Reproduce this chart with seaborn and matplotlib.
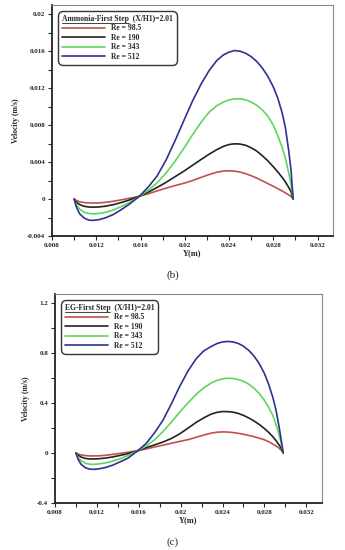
import matplotlib
matplotlib.use('Agg')
import pandas as pd
import matplotlib.pyplot as plt
import seaborn as sns
from matplotlib.ticker import MultipleLocator, FuncFormatter
from matplotlib.lines import Line2D
from matplotlib.font_manager import FontProperties

# positions across the channel (m)
y_pos = [0.0100, 0.0102, 0.0105, 0.0109, 0.0113, 0.0117, 0.0122, 0.0128, 0.0135, 0.0142,
         0.0150, 0.0159, 0.0167, 0.0175, 0.0183, 0.0191, 0.0199, 0.0207, 0.0215, 0.0222,
         0.0229, 0.0235, 0.0240, 0.0245, 0.0250, 0.0255, 0.0260, 0.0265, 0.0270, 0.0275,
         0.0280, 0.0284, 0.0288, 0.0291, 0.0294, 0.0296, 0.0298]

re_labels = ['Re = 98.5', 'Re = 190', 'Re = 343', 'Re = 512']
ratio_note = '(X/H1)=2.01'

# (b) Ammonia - first step, velocity (m/s)
amm_985 = [0, -0.00016, -0.00030, -0.00038, -0.00042, -0.00043, -0.00042, -0.00036, -0.00025, -0.00010,
           0.00008, 0.00030, 0.00057, 0.00088, 0.00117, 0.00145, 0.00170, 0.00200, 0.00235, 0.00265,
           0.00290, 0.00303, 0.00306, 0.00302, 0.00292, 0.00275, 0.00253, 0.00227, 0.00198, 0.00168,
           0.00138, 0.00113, 0.00087, 0.00067, 0.00044, 0.00028, 0]
amm_190 = [0, -0.00033, -0.00060, -0.00078, -0.00086, -0.00088, -0.00086, -0.00078, -0.00062, -0.00040,
           -0.00010, 0.00030, 0.00075, 0.00125, 0.00180, 0.00240, 0.00300, 0.00365, 0.00430, 0.00485,
           0.00535, 0.00570, 0.00590, 0.00598, 0.00595, 0.00582, 0.00555, 0.00520, 0.00470, 0.00415,
           0.00350, 0.00295, 0.00235, 0.00185, 0.00125, 0.00080, 0]
amm_343 = [0, -0.00060, -0.00110, -0.00142, -0.00156, -0.00160, -0.00157, -0.00145, -0.00120, -0.00085,
           -0.00038, 0.00030, 0.00095, 0.00175, 0.00280, 0.00405, 0.00545, 0.00695, 0.00835, 0.00940,
           0.01010, 0.01050, 0.01073, 0.01085, 0.01084, 0.01073, 0.01050, 0.01015, 0.00965, 0.00900,
           0.00800, 0.00690, 0.00560, 0.00440, 0.00280, 0.00160, 0]
amm_512 = [0, -0.00085, -0.00160, -0.00205, -0.00227, -0.00231, -0.00224, -0.00205, -0.00170, -0.00120,
           -0.00055, 0.00030, 0.00130, 0.00250, 0.00420, 0.00625, 0.00845, 0.01060, 0.01250, 0.01390,
           0.01500, 0.01560, 0.01590, 0.01607, 0.01600, 0.01578, 0.01542, 0.01490, 0.01420, 0.01330,
           0.01215, 0.01095, 0.00935, 0.00770, 0.00520, 0.00320, 0]

# (c) EG - first step, velocity (m/s)
eg_985 = [0, -0.009, -0.016, -0.021, -0.024, -0.024, -0.023, -0.019, -0.012, -0.004,
          0.006, 0.018, 0.032, 0.047, 0.062, 0.077, 0.092, 0.106, 0.125, 0.143,
          0.158, 0.166, 0.168, 0.167, 0.163, 0.157, 0.149, 0.140, 0.130, 0.118,
          0.105, 0.090, 0.071, 0.056, 0.038, 0.022, 0]
eg_190 = [0, -0.018, -0.033, -0.044, -0.048, -0.048, -0.046, -0.041, -0.032, -0.020,
          -0.005, 0.018, 0.042, 0.064, 0.087, 0.115, 0.152, 0.198, 0.245, 0.280,
          0.310, 0.325, 0.331, 0.330, 0.326, 0.316, 0.300, 0.280, 0.256, 0.228,
          0.195, 0.165, 0.130, 0.100, 0.064, 0.038, 0]
eg_343 = [0, -0.035, -0.062, -0.083, -0.090, -0.091, -0.088, -0.080, -0.066, -0.047,
          -0.020, 0.018, 0.055, 0.105, 0.170, 0.245, 0.325, 0.400, 0.470, 0.520,
          0.558, 0.580, 0.592, 0.597, 0.595, 0.587, 0.572, 0.550, 0.518, 0.476,
          0.420, 0.365, 0.300, 0.230, 0.145, 0.080, 0]
eg_512 = [0, -0.050, -0.092, -0.118, -0.129, -0.131, -0.127, -0.117, -0.098, -0.072,
          -0.040, 0.018, 0.075, 0.160, 0.260, 0.390, 0.530, 0.655, 0.755, 0.815,
          0.850, 0.875, 0.887, 0.891, 0.887, 0.875, 0.853, 0.820, 0.775, 0.715,
          0.635, 0.550, 0.445, 0.345, 0.210, 0.105, 0]

colors = ['#c0504d', '#222222', '#5dd65d', '#2e3192']

sns.set_style('ticks')
plt.rcParams['font.family'] = ['Liberation Serif', 'DejaVu Serif']
plt.rcParams['font.weight'] = 'bold'
plt.rcParams['axes.unicode_minus'] = False


def make_df(series):
    frames = []
    for lab, vals in zip(re_labels, series):
        frames.append(pd.DataFrame({'Y': y_pos, 'Velocity': vals, 'Re': lab}))
    return pd.concat(frames, ignore_index=True)


def fmt(v, p):
    if abs(v) < 1e-12:
        return '0'
    return f'{round(v, 6):g}'


fig = plt.figure(figsize=(3.45, 5.5), dpi=100)
ax1 = fig.add_axes([52/345, 1-236/550, 281/345, 231/550])
ax2 = fig.add_axes([55/345, 1-503/550, 267/345, 209/550])

panels = [
    (ax1, [amm_985, amm_190, amm_343, amm_512], 'Ammonia-First Step', (0.008, 0.0334), (-0.004, 0.021), 0.004),
    (ax2, [eg_985, eg_190, eg_343, eg_512], 'EG-First Step', (0.008, 0.0335), (-0.4, 1.27), 0.4),
]

leg_font = FontProperties(family='Liberation Serif', weight='bold', size=5.5)
titles = []
for ax, series, ttl, xl, yl, ystep in panels:
    df = make_df(series)
    sns.lineplot(data=df, x='Y', y='Velocity', hue='Re', palette=colors,
                 hue_order=re_labels, errorbar=None, linewidth=1.2, ax=ax, legend=False)
    for ln in ax.lines:
        ln.set_solid_joinstyle('round')
    ax.set_xlim(*xl)
    ax.set_ylim(*yl)
    ax.xaxis.set_major_locator(MultipleLocator(0.004))
    ax.xaxis.set_minor_locator(MultipleLocator(0.002))
    ax.yaxis.set_major_locator(MultipleLocator(ystep))
    ax.yaxis.set_minor_locator(MultipleLocator(ystep / 2))
    ax.xaxis.set_major_formatter(FuncFormatter(fmt))
    ax.yaxis.set_major_formatter(FuncFormatter(fmt))
    ax.tick_params(which='both', direction='out', length=3, width=0.8,
                   top=False, right=False, labelsize=5, pad=2)
    for s in ['left', 'bottom']:
        ax.spines[s].set_linewidth(1.3)
        ax.spines[s].set_color('#222222')
    for s in ['top', 'right']:
        ax.spines[s].set_linewidth(0.8)
        ax.spines[s].set_color('#8a8a8a')
    ax.set_xlabel('Y(m)', fontsize=6, fontweight='bold', labelpad=1)
    ax.set_ylabel('Velocity (m/s)', fontsize=5.5, fontweight='bold', labelpad=5)

    handles = [Line2D([0], [0], color=c, lw=1.2) for c in colors]
    bb = ax.get_window_extent()
    leg = ax.legend(handles, re_labels, loc='upper left',
                    bbox_to_anchor=(6/bb.width, 1-6/bb.height), borderaxespad=0,
                    prop=leg_font, title=ttl + '  ' + ratio_note, title_fontproperties=leg_font,
                    alignment='left', handlelength=5.6, handletextpad=0.9,
                    labelspacing=0.2, borderpad=0.5, fancybox=True, framealpha=1,
                    edgecolor='#333333')
    leg.get_frame().set_linewidth(1.0)
    leg.get_frame().set_boxstyle('round,pad=0,rounding_size=0.6')
    titles.append((leg, ttl))

fig.text(0.5, 1-275/550, '(b)', ha='center', va='center', fontsize=8, fontweight='normal')
fig.text(0.5, 1-542/550, '(c)', ha='center', va='center', fontsize=8, fontweight='normal')

# underline the fluid/step part of each legend title
fig.canvas.draw()
r = fig.canvas.get_renderer()
inv = fig.transFigure.inverted()
for leg, ttl in titles:
    tb = leg.get_title().get_window_extent(r)
    tmp = fig.text(0, 0, ttl, fontproperties=leg_font)
    w = tmp.get_window_extent(r).width
    tmp.remove()
    (x0, y0) = inv.transform((tb.x0, tb.y0 - 0.3))
    (x1, _) = inv.transform((tb.x0 + w, tb.y0 - 0.3))
    fig.add_artist(Line2D([x0, x1], [y0, y0], transform=fig.transFigure, color='#222222', lw=0.6))

fig.savefig('out.png', dpi=100)
